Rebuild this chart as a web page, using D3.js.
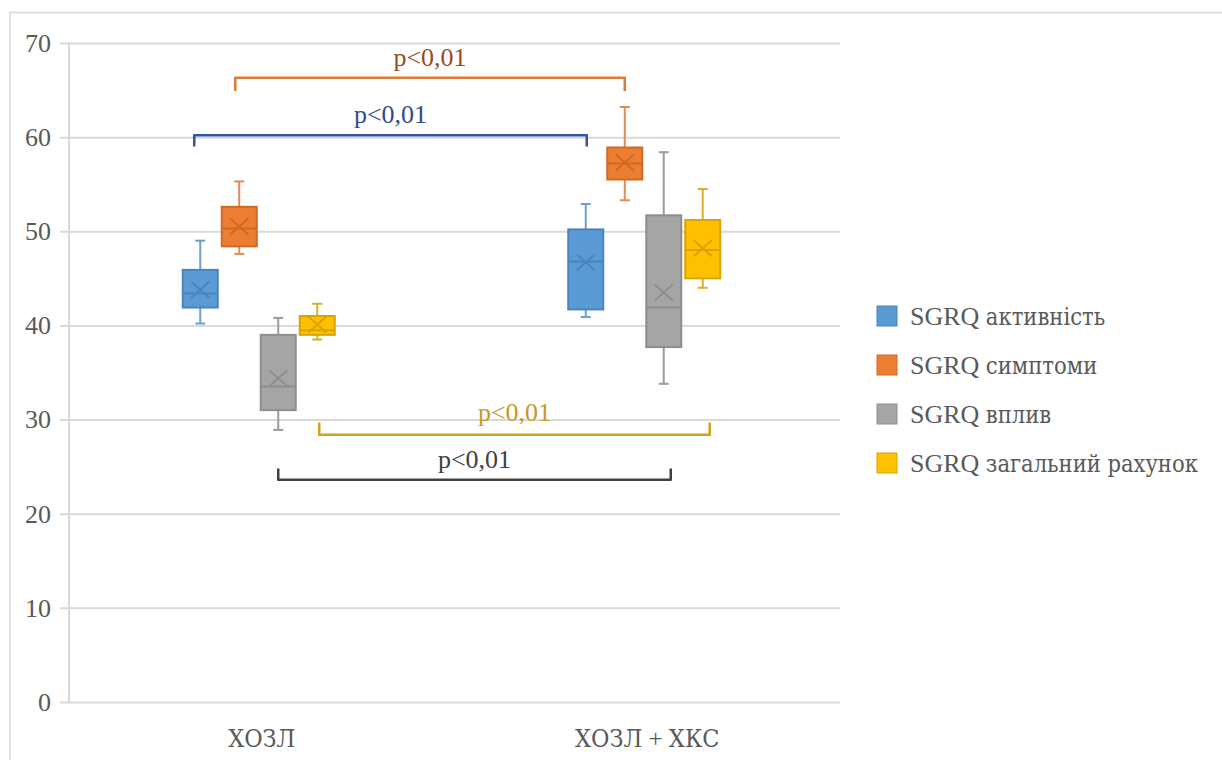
<!DOCTYPE html>
<html lang="en">
<head>
    <meta charset="UTF-8">
    <title>SGRQ box plot</title>
    <script src="https://d3js.org/d3.v7.min.js"></script>
    <style>
        body { margin: 0; background: #fff; }
        svg text { font-family: "Liberation Serif", "DejaVu Serif", serif; }
        svg tspan.cyr { font-family: "DejaVu Serif Condensed", "DejaVu Serif", serif; font-stretch: condensed; }
    </style>
</head>
<body>
<script>
    // categories and series
    const groups = ['ХОЗЛ', 'ХОЗЛ + ХКС']
    const series = ['SGRQ активність', 'SGRQ симптоми', 'SGRQ вплив', 'SGRQ загальний рахунок']
    const yTicks = [0, 10, 20, 30, 40, 50, 60, 70]

    // box stats per series, one entry per group: [min, q1, median, q3, max, mean]
    const activity = [[40.2, 41.9, 43.4, 45.9, 49.0, 43.8], [40.9, 41.7, 46.8, 50.2, 52.9, 46.7]]
    const symptoms = [[47.6, 48.4, 50.3, 52.6, 55.3, 50.5], [53.3, 55.5, 57.2, 58.9, 63.2, 57.3]]
    const impact   = [[28.9, 31.0, 33.5, 39.0, 40.8, 34.4], [33.8, 37.7, 41.9, 51.7, 58.4, 43.5]]
    const total    = [[38.5, 39.0, 39.5, 41.0, 42.3, 40.1], [44.0, 45.0, 48.0, 51.2, 54.5, 48.2]]

    // significance brackets: series, bar level, leg end level, label
    const brackets = [
        { s: 1, level: 66.3, leg: 64.9, label: 'p<0,01', dx: [-4, 0] },
        { s: 0, level: 60.2, leg: 59.0, label: 'p<0,01', dx: [-6, 1] },
        { s: 3, level: 28.4, leg: 29.7, label: 'p<0,01', dx: [2, 7] },
        { s: 2, level: 23.6, leg: 24.8, label: 'p<0,01', dx: [0, 7] }
    ]

    const fills   = ['#5b9bd5', '#ed7d31', '#a5a5a5', '#ffc000']
    const strokes = ['#4a84bd', '#cf6a26', '#8e8e8e', '#d9a400']
    const whisk   = ['#6a9fd2', '#e08a55', '#9b9b9b', '#dcb020']
    const bracketColors = ['#2f55a3', '#e07a35', '#404040', '#d4a418']
    const labelColors   = ['#2f4b88', '#9c4a1c', '#404040', '#c49a22']

    const width = 1222, height = 760
    const plot = { left: 69, right: 840, top: 43, bottom: 702 }

    const table = [activity, symptoms, impact, total]
    const boxes = []
    table.forEach((rows, si) => rows.forEach((r, gi) => {
        boxes.push({ s: si, g: gi, min: r[0], q1: r[1], med: r[2], q3: r[3], max: r[4], mean: r[5] })
    }))

    // split a label into latin / cyrillic runs so each gets its own tspan
    function runs(str) {
        return str.match(/[\u0400-\u04FF]+|[^\u0400-\u04FF]+/g)
    }
    function fillRuns(sel) {
        sel.each(function () {
            const t = d3.select(this)
            const s = t.text()
            t.text(null)
            runs(s).forEach(r => {
                t.append('tspan')
                    .attr('class', /[\u0400-\u04FF]/.test(r) ? 'cyr' : 'lat')
                    .text(r)
            })
        })
    }

    const svg = d3.select('body').append('svg').attr('width', width).attr('height', height)

    // outer frame (only top/left visible)
    svg.append('path')
        .attr('d', `M10,${height} V12.5 H${width}`)
        .attr('fill', 'none').attr('stroke', '#d9d9d9').attr('stroke-width', 1.5)

    const y = d3.scaleLinear().domain([0, 70]).range([plot.bottom, plot.top])
    const x = d3.scaleBand().domain(groups).range([plot.left, plot.right])
    const xs = d3.scaleBand().domain(series).range([-79, 73]).paddingInner(4 / 39)

    const cx = (g, s) => x(groups[g]) + x.bandwidth() / 2 + xs(series[s]) + xs.bandwidth() / 2

    // y axis with gridlines
    const yAxis = svg.append('g')
        .attr('transform', `translate(${plot.left - 9},0)`)
        .call(d3.axisLeft(y).tickValues(yTicks).tickSize(-(plot.right - plot.left + 9)).tickPadding(9))
    yAxis.select('.domain').remove()
    yAxis.selectAll('line').attr('stroke', '#d9d9d9').attr('stroke-width', 2)
    yAxis.selectAll('text').attr('fill', '#595959').style('font-size', '26px')

    svg.append('line')
        .attr('x1', plot.left).attr('x2', plot.left)
        .attr('y1', y(70)).attr('y2', y(0))
        .attr('stroke', '#d9d9d9').attr('stroke-width', 2)

    // x axis labels
    const xAxis = svg.append('g')
        .attr('transform', `translate(0,${plot.bottom})`)
        .call(d3.axisBottom(x).tickSize(0).tickPadding(27))
    xAxis.select('.domain').remove()
    xAxis.selectAll('text').attr('fill', '#595959').style('font-size', '25px').call(fillRuns)

    // boxes
    const bw = xs.bandwidth()
    const g = svg.append('g').attr('class', 'boxes')
    const b = g.selectAll('g').data(boxes).join('g')

    b.append('line')
        .attr('x1', d => cx(d.g, d.s)).attr('x2', d => cx(d.g, d.s))
        .attr('y1', d => y(d.max)).attr('y2', d => y(d.q3))
        .attr('stroke', d => whisk[d.s]).attr('stroke-width', 2)
    b.append('line')
        .attr('x1', d => cx(d.g, d.s)).attr('x2', d => cx(d.g, d.s))
        .attr('y1', d => y(d.q1)).attr('y2', d => y(d.min))
        .attr('stroke', d => whisk[d.s]).attr('stroke-width', 2)
    b.append('line')
        .attr('x1', d => cx(d.g, d.s) - 5).attr('x2', d => cx(d.g, d.s) + 5)
        .attr('y1', d => y(d.max)).attr('y2', d => y(d.max))
        .attr('stroke', d => whisk[d.s]).attr('stroke-width', 2)
    b.append('line')
        .attr('x1', d => cx(d.g, d.s) - 5).attr('x2', d => cx(d.g, d.s) + 5)
        .attr('y1', d => y(d.min)).attr('y2', d => y(d.min))
        .attr('stroke', d => whisk[d.s]).attr('stroke-width', 2)

    b.append('rect')
        .attr('x', d => cx(d.g, d.s) - bw / 2)
        .attr('y', d => y(d.q3))
        .attr('width', bw)
        .attr('height', d => y(d.q1) - y(d.q3))
        .attr('fill', d => fills[d.s])
        .attr('stroke', d => strokes[d.s]).attr('stroke-width', 2)

    b.append('line')
        .attr('x1', d => cx(d.g, d.s) - bw / 2).attr('x2', d => cx(d.g, d.s) + bw / 2)
        .attr('y1', d => y(d.med)).attr('y2', d => y(d.med))
        .attr('stroke', d => strokes[d.s]).attr('stroke-width', 2)

    // mean marker
    b.append('path')
        .attr('d', d => {
            const px = cx(d.g, d.s), py = y(d.mean)
            return `M${px - 9},${py - 8}L${px + 9},${py + 8}M${px - 9},${py + 8}L${px + 9},${py - 8}`
        })
        .attr('stroke', d => strokes[d.s]).attr('stroke-width', 2).attr('fill', 'none')

    // brackets
    const br = svg.append('g').attr('class', 'brackets').selectAll('g').data(brackets).join('g')
    br.append('path')
        .attr('d', d => {
            const x1 = cx(0, d.s) + d.dx[0], x2 = cx(1, d.s) + d.dx[1]
            return `M${x1},${y(d.leg)} V${y(d.level)} H${x2} V${y(d.leg)}`
        })
        .attr('fill', 'none')
        .attr('stroke', d => bracketColors[d.s]).attr('stroke-width', 2.5)
        .attr('stroke-linejoin', 'round')
    br.append('text')
        .attr('x', d => (cx(0, d.s) + d.dx[0] + cx(1, d.s) + d.dx[1]) / 2)
        .attr('y', d => d.level > d.leg ? y(d.level) - 12 : y(d.leg) - 1)
        .attr('text-anchor', 'middle')
        .attr('fill', d => labelColors[d.s])
        .style('font-size', '26px')
        .text(d => d.label)

    // legend
    const legend = svg.append('g').attr('transform', 'translate(877,316)')
    const li = legend.selectAll('g').data(series).join('g')
        .attr('transform', (d, i) => `translate(0,${i * 49})`)
    li.append('rect')
        .attr('x', 0).attr('y', -10).attr('width', 20).attr('height', 20)
        .attr('fill', (d, i) => fills[i]).attr('stroke', (d, i) => strokes[i]).attr('stroke-width', 1)
    li.append('text')
        .attr('x', 33).attr('y', 9)
        .attr('fill', '#595959')
        .style('font-size', '26px')
        .text(d => d)
        .call(fillRuns)
    li.selectAll('tspan.cyr').style('font-size', '23.5px')
</script>
</body>
</html>
